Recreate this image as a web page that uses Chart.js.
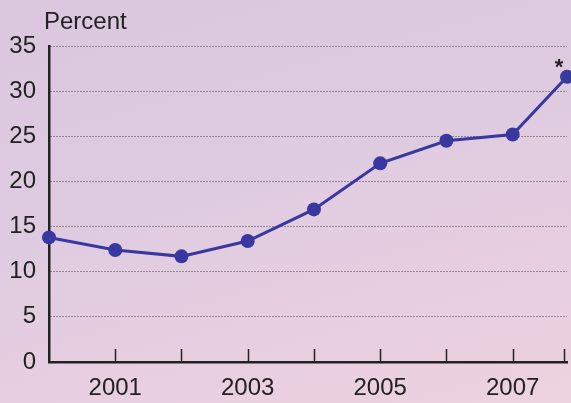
<!DOCTYPE html>
<html><head><meta charset="utf-8">
<script src="https://cdn.jsdelivr.net/npm/chart.js@4"></script>
<style>
html,body{margin:0;padding:0;width:571px;height:403px;overflow:hidden;}
body{background:linear-gradient(165deg,#dac7de 0%,#dfcbe0 45%,#e8cfe0 75%,#edd2df 100%);}
canvas{display:block;}
</style></head>
<body>
<canvas id="c" width="571" height="403"></canvas>
<script>
const years = [2000, 2001, 2002, 2003, 2004, 2005, 2006, 2007, 2007.82];
const percent = [13.8, 12.4, 11.7, 13.4, 16.9, 22.0, 24.5, 25.2, 31.6];
const xTickValues = [2000, 2001, 2002, 2003, 2004, 2005, 2006, 2007, 2007.78];
const xTickLabels = [2001, 2003, 2005, 2007];
const yMin = 0, yMax = 35, yStep = 5;
const unitLabel = 'Percent';
const noteMark = '*';

const FONT = '"Liberation Sans", Arial, sans-serif';
const INK = '#222222';
const LINE = '#3838a0';

const decor = {
  id: 'decor',
  afterDraw(chart) {
    const ctx = chart.ctx, a = chart.chartArea, xs = chart.scales.x;
    ctx.save();
    ctx.strokeStyle = INK; ctx.lineWidth = 1.5;
    xs.ticks.forEach(t => {
      if (t.value === xs.min) return;
      const px = Math.round(xs.getPixelForValue(t.value)) + 0.5;
      ctx.beginPath(); ctx.moveTo(px, a.bottom); ctx.lineTo(px, a.bottom - 13); ctx.stroke();
    });
    ctx.fillStyle = INK; ctx.font = '24px ' + FONT; ctx.textAlign = 'left'; ctx.textBaseline = 'alphabetic';
    ctx.fillText(unitLabel, 44, 29);
    const meta = chart.getDatasetMeta(0);
    const last = meta.data[meta.data.length - 1];
    ctx.font = 'bold 22px ' + FONT; ctx.textAlign = 'center';
    ctx.fillText(noteMark, last.x - 8, last.y - 3);
    ctx.restore();
  }
};

new Chart(document.getElementById('c'), {
  type: 'line',
  data: {
    datasets: [{
      data: years.map((y, i) => ({x: y, y: percent[i]})),
      borderColor: LINE, backgroundColor: LINE,
      borderWidth: 3, pointRadius: 7, pointHoverRadius: 7,
      pointBackgroundColor: LINE, pointBorderWidth: 0,
      tension: 0, clip: false
    }]
  },
  options: {
    responsive: false, animation: false,
    layout: {autoPadding: false, padding: {left: 0, right: 4, top: 46, bottom: 0}},
    plugins: {legend: {display: false}, tooltip: {enabled: false}},
    scales: {
      x: {
        type: 'linear', min: years[0], max: years[years.length - 1],
        grid: {display: false, drawTicks: false},
        border: {display: true, color: INK, width: 2.5},
        afterBuildTicks: s => { s.ticks = xTickValues.map(v => ({value: v})); },
        ticks: {
          autoSkip: false, maxRotation: 0, padding: 12,
          color: INK, font: {family: FONT, size: 24},
          callback: v => xTickLabels.includes(v) ? String(v) : ''
        },
        afterFit: s => { s.height = 41; s.paddingLeft = 0; s.paddingRight = 0; }
      },
      y: {
        min: yMin, max: yMax,
        grid: {color: '#444444', lineWidth: 1, drawTicks: false},
        border: {display: true, color: INK, width: 2.5, dash: [1, 2]},
        ticks: {stepSize: yStep, padding: 13, color: INK, font: {family: FONT, size: 24}},
        afterFit: s => { s.width = 49; }
      }
    }
  },
  plugins: [decor]
});
</script>
</body></html>
